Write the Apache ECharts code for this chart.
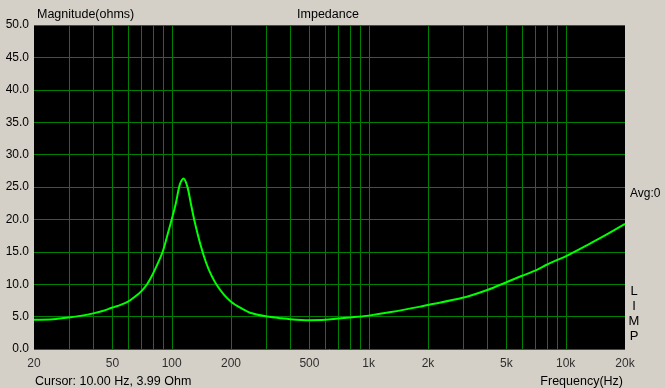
<!DOCTYPE html>
<html>
<head>
<meta charset="utf-8">
<script src="https://cdn.jsdelivr.net/npm/echarts@6/dist/echarts.min.js"></script>
<style>
html,body{margin:0;padding:0;background:#d4d0c8;}
#c{width:665px;height:388px;}
</style>
</head>
<body>
<div id="c"></div>
<script>
// Data
const freqs = [20,25,30,35,40,45,50,55,60,65,70,75,80,85,90,95,100,105,110,114.6,120,125,130,140,150,160,170,185,200,225,250,300,350,400,500,600,700,800,900,1000,1300,1800,2000,3000,4000,5000,6000,7000,8000,9000,10000,12800,16000,20000];
const impedance = [4.5,4.6,4.85,5.15,5.5,5.9,6.4,6.8,7.3,8.05,8.9,10.0,11.5,13.2,15.0,17.5,20.0,22.5,25.4,26.3,25.1,22.5,20.0,16.1,13.2,11.2,9.8,8.3,7.3,6.3,5.6,5.05,4.8,4.6,4.45,4.5,4.7,4.85,5.0,5.15,5.7,6.5,6.8,7.9,9.1,10.3,11.3,12.1,13.0,13.7,14.3,16.0,17.6,19.3];
const gridFreqs = [30,40,50,60,70,80,90,100,200,300,400,500,600,700,800,900,1000,2000,3000,4000,5000,6000,7000,8000,9000,10000];
const xTickFreqs = [20,50,100,200,500,1000,2000,5000,10000,20000];
const xTickLabels = ['20','50','100','200','500','1k','2k','5k','10k','20k'];
const limpLetters = ['L','I','M','P'];

const FONT = '"Liberation Sans", Arial, sans-serif';
const chart = echarts.init(document.getElementById('c'), null, {renderer:'canvas'});

const option = {
  backgroundColor: '#d4d0c8',
  animation: false,
  grid: {left:34, top:25, right:40, bottom:39, show:true, backgroundColor:'#000', borderWidth:0},
  xAxis: {
    type:'log', logBase:10, min:20, max:20000,
    axisLine:{show:false}, axisTick:{show:false}, axisLabel:{show:false}, splitLine:{show:false}, minorSplitLine:{show:false}
  },
  yAxis: {
    type:'value', min:0, max:50, interval:5,
    axisLine:{show:false}, axisTick:{show:false},
    axisLabel:{color:'#000', fontSize:12, fontFamily:FONT, margin:5, formatter:v=>v.toFixed(1)},
    splitLine:{show:true, lineStyle:{color:'#008000', width:1}}
  },
  series: [
    {
      type:'custom',
      silent:true,
      z:1,
      data: gridFreqs.map(f=>[f]),
      renderItem:function(params, api){
        const top = api.coord([api.value(0), 50]);
        const bot = api.coord([api.value(0), 0]);
        const x = Math.round(top[0]) + 0.5;
        return {type:'line', shape:{x1:x, y1:top[1], x2:x, y2:bot[1]},
          style:{stroke:'#008000', lineWidth:1}};
      }
    },
    {
      type:'line',
      data: freqs.map((f,i)=>[f, impedance[i]]),
      showSymbol:false, smooth:0.3,
      lineStyle:{color:'#00ff00', width:2},
      z:5
    },
    {
      type:'scatter',
      data: xTickFreqs.map(f=>[f,0]),
      symbolSize:1,
      itemStyle:{color:'rgba(0,0,0,0)'},
      silent:true,
      label:{show:true, position:'bottom', distance:8, color:'#000', fontSize:12, fontFamily:FONT,
        formatter:p=>xTickLabels[p.dataIndex]},
      z:1
    }
  ],
  graphic: [
    {type:'text', left:37, top:8, style:{text:'Magnitude(ohms)', fill:'#000', font:'12.5px '+FONT}},
    {type:'text', x:328, y:15, style:{text:'Impedance', fill:'#000', font:'12.5px '+FONT, textAlign:'center', textVerticalAlign:'middle'}},
    {type:'text', x:630, y:194, style:{text:'Avg:0', fill:'#000', font:'12px '+FONT, textAlign:'left', textVerticalAlign:'middle'}},
    {type:'text', x:35, y:382, style:{text:'Cursor: 10.00 Hz, 3.99 Ohm', fill:'#000', font:'12.5px '+FONT, textAlign:'left', textVerticalAlign:'middle'}},
    {type:'text', x:623, y:382, style:{text:'Frequency(Hz)', fill:'#000', font:'12.5px '+FONT, textAlign:'right', textVerticalAlign:'middle'}}
  ].concat(limpLetters.map((t,i)=>({type:'text', x:634, y:291+i*15, style:{text:t, fill:'#000', font:'13px '+FONT, textAlign:'center', textVerticalAlign:'middle'}})))
};
chart.setOption(option);
</script>
</body>
</html>
